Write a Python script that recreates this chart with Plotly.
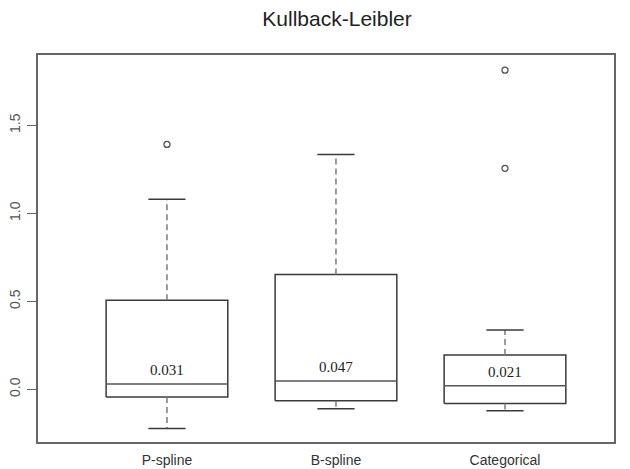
import plotly.graph_objects as go

# Kullback-Leibler divergence summaries per model
categories = ["P-spline", "B-spline", "Categorical"]
lower_whisker = [-0.223, -0.110, -0.122]
q1 = [-0.044, -0.065, -0.080]
median = [0.031, 0.047, 0.021]
q3 = [0.507, 0.653, 0.195]
upper_whisker = [1.080, 1.335, 0.337]
outliers = [[1.392], [], [1.256, 1.814]]
median_labels = ["0.031", "0.047", "0.021"]

positions = [1, 2, 3]
half_w = 0.36
cap_w = 0.11

box_color = "#3a3a3a"
whisker_color = "#7a7a7a"

fig = go.Figure()

for i, x in enumerate(positions):
    # box outline
    fig.add_trace(go.Scatter(
        x=[x - half_w, x + half_w, x + half_w, x - half_w, x - half_w],
        y=[q1[i], q1[i], q3[i], q3[i], q1[i]],
        mode="lines", line=dict(color=box_color, width=1.5),
        hoverinfo="skip", showlegend=False))
    # median line
    fig.add_trace(go.Scatter(
        x=[x - half_w, x + half_w], y=[median[i], median[i]],
        mode="lines", line=dict(color="#555555", width=1.5),
        hoverinfo="skip", showlegend=False))
    # dashed whiskers
    fig.add_trace(go.Scatter(
        x=[x, x, None, x, x],
        y=[q3[i], upper_whisker[i], None, q1[i], lower_whisker[i]],
        mode="lines", line=dict(color=whisker_color, width=1.5, dash="6px,4px"),
        hoverinfo="skip", showlegend=False))
    # whisker caps
    fig.add_trace(go.Scatter(
        x=[x - cap_w, x + cap_w, None, x - cap_w, x + cap_w],
        y=[upper_whisker[i], upper_whisker[i], None, lower_whisker[i], lower_whisker[i]],
        mode="lines", line=dict(color=box_color, width=1.5),
        hoverinfo="skip", showlegend=False))
    # outliers
    if outliers[i]:
        fig.add_trace(go.Scatter(
            x=[x] * len(outliers[i]), y=outliers[i], mode="markers",
            marker=dict(symbol="circle-open", size=6, color="#555555",
                        line=dict(width=1.3)),
            hoverinfo="skip", showlegend=False))
    # median value label
    fig.add_annotation(
        x=x, y=median[i], text=median_labels[i], showarrow=False,
        yanchor="bottom", yshift=4,
        font=dict(family="Liberation Serif", size=15, color="#222222"))

fig.update_layout(
    width=630, height=469,
    margin=dict(l=38, r=16, t=55, b=27),
    paper_bgcolor="white", plot_bgcolor="white",
    title=dict(text="Kullback-Leibler", x=0.535, xanchor="center",
               y=1 - 19 / 469, yanchor="middle",
               font=dict(family="Liberation Sans", size=21, color="#222222")),
    xaxis=dict(range=[0.237, 3.645], tickvals=positions, ticktext=categories,
               showgrid=False, zeroline=False, showline=True, mirror=True,
               linecolor="#666666", linewidth=1.5, ticks="",
               ticklabelstandoff=4, automargin=False,
               tickfont=dict(family="Liberation Sans", size=14, color="#333333")),
    yaxis=dict(range=[-0.299, 1.900], tickvals=[0.0, 0.5, 1.0, 1.5],
               ticktext=["0.0", "0.5", "1.0", "1.5"], tickangle=-90,
               showgrid=False, zeroline=False, showline=True, mirror=True,
               linecolor="#666666", linewidth=1.5, ticks="outside",
               ticklen=9, tickcolor="#666666", ticklabelstandoff=2,
               automargin=False,
               tickfont=dict(family="Liberation Sans", size=14, color="#555555")),
)

fig.write_html("out.html")
